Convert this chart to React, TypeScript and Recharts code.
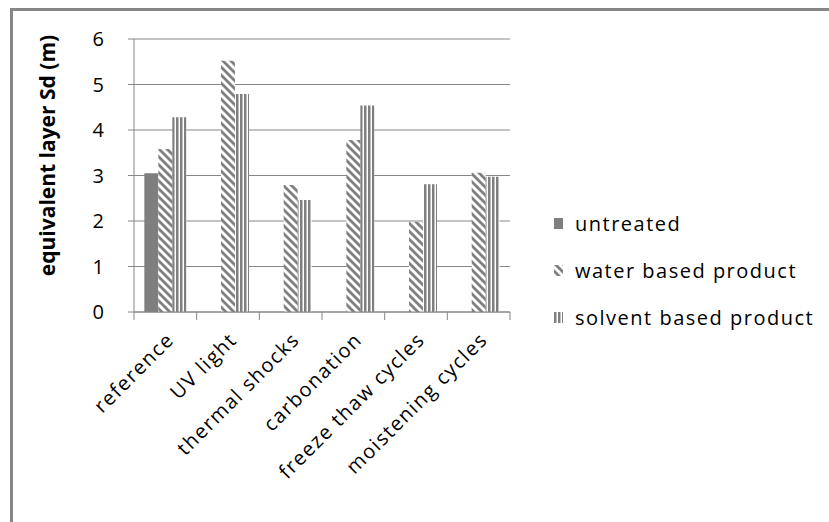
import { Bar, BarChart, CartesianGrid, Label, Legend, XAxis, YAxis } from "recharts";

const CATEGORIES = [
  "reference",
  "UV light",
  "thermal shocks",
  "carbonation",
  "freeze thaw cycles",
  "moistening cycles",
];
const UNTREATED = [3.05, null, null, null, null, null];
const WATER_BASED = [3.58, 5.52, 2.79, 3.78, 1.98, 3.06];
const SOLVENT_BASED = [4.28, 4.79, 2.46, 4.54, 2.81, 2.97];
const Y_TICKS = [0, 1, 2, 3, 4, 5, 6];

const data = CATEGORIES.map((name, i) => ({
  name,
  untreated: UNTREATED[i],
  water: WATER_BASED[i],
  solvent: SOLVENT_BASED[i],
}));

const GRAY = "#7f7f7f";
const AXIS = "#868686";
const FONT = "'Open Sans', sans-serif";
const TEXT_STYLE = { fill: "#000", fontSize: 20, fontFamily: FONT, letterSpacing: 1.5 };
const LABEL_GAP = 19;
const EDGE_TICK = 8;

const SERIES = [
  { key: "untreated", name: "untreated", fill: GRAY },
  { key: "water", name: "water based product", fill: "url(#diag)" },
  { key: "solvent", name: "solvent based product", fill: "url(#vert)" },
];

function Patterns() {
  return (
    <defs>
      <pattern id="diag" width={5.66} height={5.66} patternUnits="userSpaceOnUse" patternTransform="rotate(-45)">
        <rect width={5.66} height={5.66} fill="#fff" />
        <rect width={2.8} height={5.66} fill={GRAY} />
      </pattern>
      <pattern id="vert" width={4} height={4} patternUnits="userSpaceOnUse">
        <rect width={4} height={4} fill="#fff" />
        <rect width={2.5} height={4} fill={GRAY} />
      </pattern>
    </defs>
  );
}

// slanted category name, plus tick marks on the band edges (Excel style)
function CategoryTick(props: any) {
  const { x, y, payload, index, width, visibleTicksCount } = props;
  const band = width / visibleTicksCount;
  const axisY = y - LABEL_GAP;
  const left = x - band / 2;
  return (
    <g>
      <line x1={left} x2={left} y1={axisY} y2={axisY + EDGE_TICK} stroke={AXIS} />
      {index === visibleTicksCount - 1 && (
        <line x1={left + band} x2={left + band} y1={axisY} y2={axisY + EDGE_TICK} stroke={AXIS} />
      )}
      <text
        x={x}
        y={y}
        dy="0.71em"
        transform={`rotate(-45 ${x} ${y})`}
        textAnchor="end"
        fill={TEXT_STYLE.fill}
        fontSize={TEXT_STYLE.fontSize}
        fontFamily={TEXT_STYLE.fontFamily}
        letterSpacing={TEXT_STYLE.letterSpacing}
      >
        {payload.value}
      </text>
    </g>
  );
}

function LegendList() {
  return (
    <ul style={{ listStyle: "none", margin: 0, padding: 0, fontFamily: FONT, fontSize: 20, letterSpacing: 1.5, color: "#000" }}>
      {SERIES.map((s) => (
        <li key={s.key} style={{ display: "flex", alignItems: "center", height: 47 }}>
          <svg width={9} height={11} style={{ marginRight: 12 }}>
            <rect width={9} height={11} fill={s.fill} />
          </svg>
          <span>{s.name}</span>
        </li>
      ))}
    </ul>
  );
}

export default function App() {
  return (
    <div style={{ position: "absolute", left: 0, top: 0, width: 829, height: 522, overflow: "hidden", background: "#fff" }}>
      <div style={{ position: "absolute", left: 10, top: 8, width: 900, height: 600, border: `3px solid ${AXIS}` }} />
      <BarChart
        width={829}
        height={522}
        data={data}
        margin={{ top: 39, right: 319, bottom: 60, left: 0 }}
        barCategoryGap="16.5%"
        barGap={0}
        style={{ position: "absolute", left: 0, top: 0 }}
      >
        <Patterns />
        <CartesianGrid stroke={AXIS} vertical={false} />
        <XAxis
          dataKey="name"
          interval={0}
          tickLine={false}
          tickSize={0}
          tickMargin={LABEL_GAP}
          axisLine={{ stroke: AXIS }}
          height={150}
          tick={<CategoryTick />}
        />
        <YAxis
          domain={[0, 6]}
          ticks={Y_TICKS}
          interval={0}
          width={134}
          tickSize={6}
          tickMargin={24}
          tickLine={{ stroke: AXIS }}
          axisLine={{ stroke: AXIS }}
          tick={{ ...TEXT_STYLE, letterSpacing: 0 }}
        >
          <Label
            value="equivalent layer Sd (m)"
            content={({ viewBox }: any) => {
              const cx = viewBox.x + 47;
              const cy = viewBox.y + viewBox.height / 2 - 20;
              return (
                <text
                  x={cx}
                  y={cy}
                  transform={`rotate(-90 ${cx} ${cy})`}
                  textAnchor="middle"
                  dominantBaseline="central"
                  fontFamily={FONT}
                  fontSize={21}
                  fontWeight="bold"
                  fill="#000"
                >
                  equivalent layer Sd (m)
                </text>
              );
            }}
          />
        </YAxis>
        <Legend
          layout="vertical"
          align="center"
          verticalAlign="middle"
          content={() => <LegendList />}
          wrapperStyle={{ left: 554, top: 200, width: 275 }}
        />
        {SERIES.map((s) => (
          <Bar key={s.key} dataKey={s.key} name={s.name} fill={s.fill} isAnimationActive={false} />
        ))}
      </BarChart>
    </div>
  );
}
